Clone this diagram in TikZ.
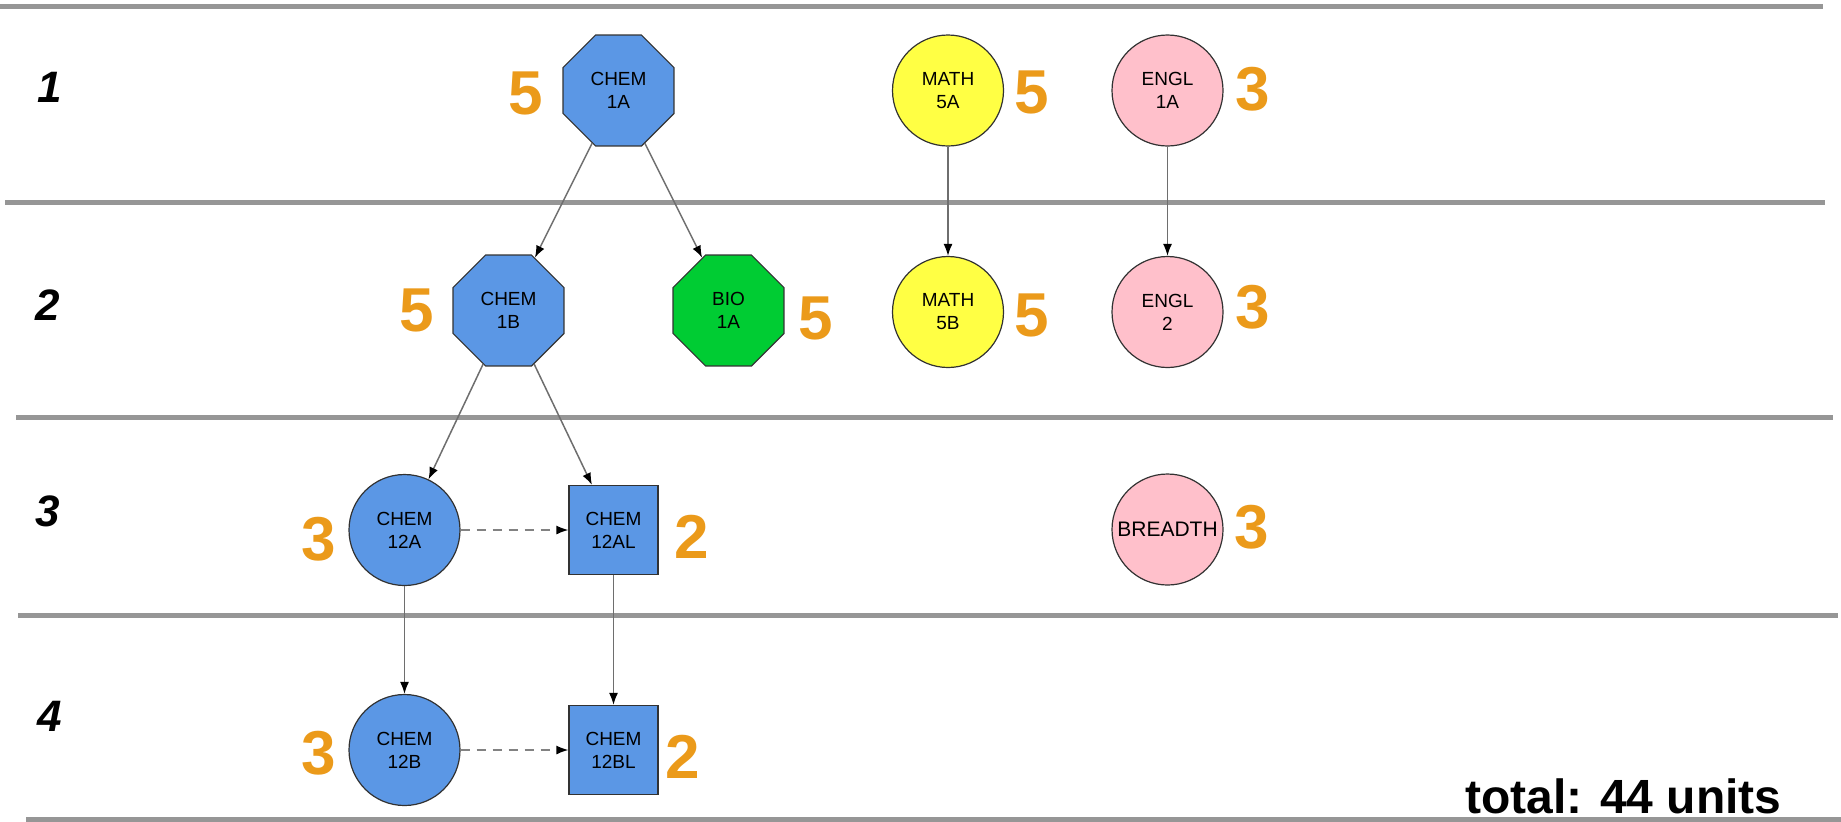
\documentclass[tikz,border=0pt]{standalone}
\usepackage{fontspec}
\setmainfont{Liberation Sans}
\usetikzlibrary{shapes.geometric,arrows.meta}
\definecolor{cblue}{RGB}{91,151,229}
\definecolor{cgreen}{RGB}{0,204,51}
\definecolor{cyellow}{RGB}{255,255,68}
\definecolor{cpink}{RGB}{255,192,203}
\definecolor{nodeborder}{RGB}{50,50,50}
\definecolor{edgegray}{RGB}{110,110,110}
\definecolor{dashgray}{RGB}{130,130,130}
\definecolor{sepgray}{RGB}{150,150,150}
\definecolor{unitorange}{RGB}{235,154,26}
\begin{document}
\begin{tikzpicture}[x=0.5pt,y=-0.5pt,
  course/.style={draw=nodeborder, line width=0.6pt, inner sep=0pt, align=center,
    font=\fontsize{9.5}{11.5}\selectfont, text=black},
  oct/.style={course, regular polygon, regular polygon sides=8, minimum size=60pt},
  circ/.style={course, circle, minimum size=55.5pt},
  sq/.style={course, rectangle, minimum size=44.5pt},
  units/.style={font=\fontsize{31}{31}\selectfont\bfseries, text=unitorange, inner sep=0pt},
  rowlabel/.style={font=\fontsize{22}{22}\selectfont\bfseries\itshape, inner sep=0pt},
  edge/.style={draw=edgegray, line width=0.75pt, -{Latex[length=6pt,width=4.5pt,color=black]}},
  dashededge/.style={edge, draw=dashgray, dash pattern=on 4.5pt off 3.5pt},
  sep/.style={draw=sepgray, line width=2.5pt}
]
\useasboundingbox (0,0) rectangle (1841,821);

% separators
\draw[sep] (0,6) -- (1823,6);
\draw[sep] (5,202.5) -- (1825,202.5);
\draw[sep] (16,417) -- (1833,417);
\draw[sep] (18,615) -- (1838,615);
\draw[sep] (26,819.5) -- (1841,819.5);

% row labels
\node[rowlabel] (r1) at (50,87) {1};
\node[rowlabel] (r2) at (48,305) {2};
\node[rowlabel] (r3) at (48,511) {3};
\node[rowlabel] (r4) at (50,716) {4};

% courses
\node[oct, fill=cblue] (c1a) at (618.5,90.5) {CHEM\\1A};
\node[oct, fill=cblue] (c1b) at (508.5,310.5) {CHEM\\1B};
\node[oct, fill=cgreen] (bio) at (728.5,310.5) {BIO\\1A};
\node[circ, fill=cyellow] (m5a) at (948,90.5) {MATH\\5A};
\node[circ, fill=cyellow] (m5b) at (948,312) {MATH\\5B};
\node[circ, fill=cpink] (e1a) at (1167.5,90.5) {ENGL\\1A};
\node[circ, fill=cpink] (e2) at (1167.5,312) {ENGL\\2};
\node[circ, fill=cpink, font=\fontsize{10.5}{12}\selectfont] (br) at (1167.5,529.5) {BREADTH};
\node[circ, fill=cblue] (c12a) at (404.5,530) {CHEM\\12A};
\node[sq, fill=cblue] (c12al) at (613.5,530) {CHEM\\12AL};
\node[circ, fill=cblue] (c12b) at (404.5,750) {CHEM\\12B};
\node[sq, fill=cblue] (c12bl) at (613.5,750) {CHEM\\12BL};

% units
\node[units] (u1a) at (526,93) {5};
\node[units] (u1b) at (417,310) {5};
\node[units] (ubio) at (816,318) {5};
\node[units] (u5a) at (1032,92) {5};
\node[units] (u5b) at (1032,315) {5};
\node[units] (ue1a) at (1253,89) {3};
\node[units] (ue2) at (1253,307) {3};
\node[units] (ubr) at (1252,527) {3};
\node[units] (u12a) at (319,539) {3};
\node[units] (u12al) at (692,537) {2};
\node[units] (u12b) at (319,753) {3};
\node[units] (u12bl) at (683,757) {2};

% edges
\draw[edge] (c1a) -- (c1b);
\draw[edge] (c1a) -- (bio);
\draw[edge] (c1b) -- (c12a);
\draw[edge] (c1b) -- (c12al);
\draw[edge] (c12a) -- (c12b);
\draw[edge] (c12al) -- (c12bl);
\draw[edge] (m5a) -- (m5b);
\draw[edge] (e1a) -- (e2);
\draw[dashededge] (c12a) -- (c12al);
\draw[dashededge] (c12b) -- (c12bl);

% total
\node[font=\fontsize{24}{24}\selectfont\bfseries, inner sep=0pt, anchor=base east] (total) at (1782,813) {total: 44 units};
\end{tikzpicture}
\end{document}
